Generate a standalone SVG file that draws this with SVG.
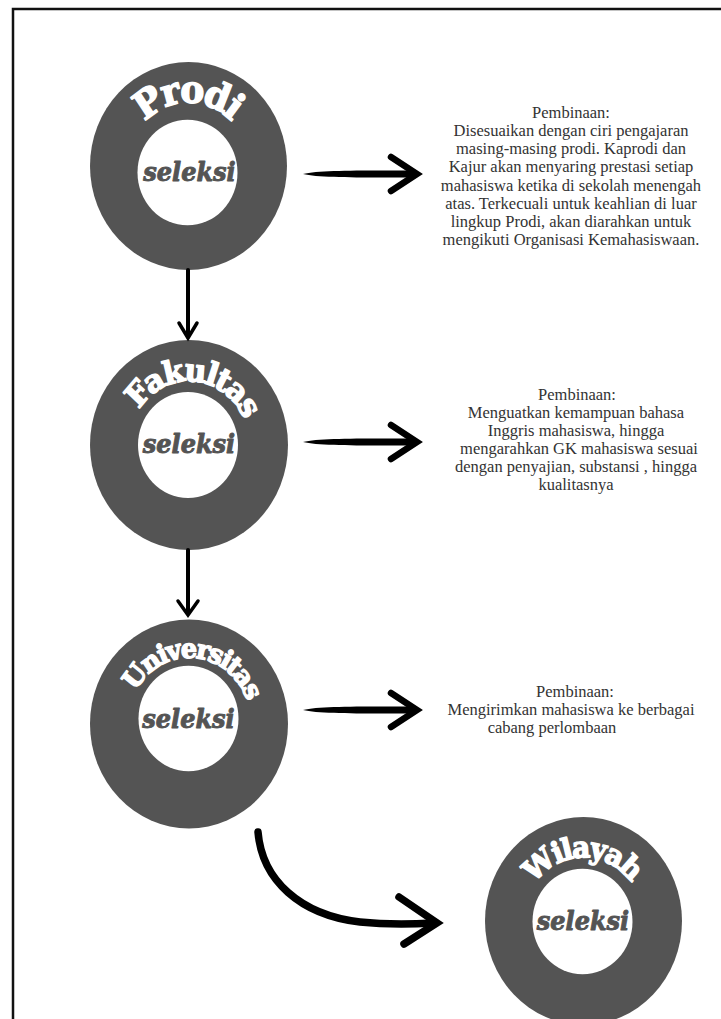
<svg xmlns="http://www.w3.org/2000/svg" width="721" height="1019" viewBox="0 0 721 1019">
<defs>
<style>
.ring{fill:#545454}
.hole{fill:#ffffff}
.title{font-family:"DejaVu Serif","Liberation Serif",serif;font-weight:bold;fill:#ffffff;stroke:#ffffff;stroke-width:1.4;stroke-linejoin:round;text-anchor:middle}
.sel{font-family:"DejaVu Serif","Liberation Serif",serif;font-weight:bold;font-style:italic;font-size:24px;fill:#545454;stroke:#545454;stroke-width:0.9;stroke-linejoin:round;text-anchor:middle}
.desc{font-family:"Liberation Serif","Times New Roman",serif;font-size:16.5px;fill:#333333;text-anchor:middle}
.shaft{fill:#000000}
.head{fill:none;stroke:#000000;stroke-linecap:round;stroke-linejoin:miter}
.line{fill:none;stroke:#000000;stroke-linecap:round}
</style>
<path id="arcProdi" d="M -58.8 12.0 A 60 60 0 1 1 59.3 8.9"/>
<path id="arcFak" d="M -59.7 5.7 A 60 60 0 1 1 58.1 15.0"/>
<path id="arcUni" d="M -60.4 3.4 A 61 61 0 1 1 59.9 11.6"/>
<path id="arcWil" d="M -58.8 12.0 A 60 60 0 1 1 59.3 8.9"/>
</defs>
<rect x="0" y="0" width="721" height="1019" fill="#ffffff"/>
<path d="M13,1019 V9 H721" fill="none" stroke="#111111" stroke-width="2.5"/>

<g id="node-prodi" transform="translate(188.5,166) scale(1,1.056)">
<circle class="ring" cx="0" cy="0" r="98.5"/>
<circle class="hole" cx="-1" cy="6.2" r="50"/>
<text class="title" font-size="36" letter-spacing="-3"><textPath href="#arcProdi" startOffset="50%">Prodi</textPath></text>
<text class="sel" x="1" y="14">seleksi</text>
</g>

<g id="node-fakultas" transform="translate(189,445) scale(1,1.06)">
<circle class="ring" cx="0" cy="0" r="99"/>
<circle class="hole" cx="-1" cy="0" r="50"/>
<text class="title" font-size="30" letter-spacing="-2"><textPath href="#arcFak" startOffset="50%">Fakultas</textPath></text>
<text class="sel" x="0" y="7.5">seleksi</text>
</g>

<g id="node-universitas" transform="translate(189,724) scale(1,1.055)">
<circle class="ring" cx="0" cy="0" r="99"/>
<circle class="hole" cx="-0.5" cy="-5.2" r="50"/>
<text class="title" font-size="25.5" letter-spacing="-2"><textPath href="#arcUni" startOffset="50%">Universitas</textPath></text>
<text class="sel" x="-0.5" y="4">seleksi</text>
</g>

<g id="node-wilayah" transform="translate(583.5,921) scale(1,1.055)">
<circle class="ring" cx="0" cy="0" r="98.5"/>
<circle class="hole" cx="-1" cy="0.5" r="50"/>
<text class="title" font-size="28" letter-spacing="-2"><textPath href="#arcWil" startOffset="50%">Wilayah</textPath></text>
<text class="sel" x="-0.5" y="8.5">seleksi</text>
</g>

<g id="desc-prodi">
<text class="desc" x="571" y="118">Pembinaan:</text>
<text class="desc" x="571" y="136">Disesuaikan dengan ciri pengajaran</text>
<text class="desc" x="571" y="154">masing-masing prodi. Kaprodi dan</text>
<text class="desc" x="571" y="172">Kajur akan menyaring prestasi setiap</text>
<text class="desc" x="571" y="191">mahasiswa ketika di sekolah menengah</text>
<text class="desc" x="571" y="209">atas. Terkecuali untuk keahlian di luar</text>
<text class="desc" x="571" y="227">lingkup Prodi, akan diarahkan untuk</text>
<text class="desc" x="571" y="245">mengikuti Organisasi Kemahasiswaan.</text>
</g>

<g id="desc-fakultas">
<text class="desc" x="577" y="400">Pembinaan:</text>
<text class="desc" x="576" y="418">Menguatkan kemampuan bahasa</text>
<text class="desc" x="576" y="436">Inggris mahasiswa, hingga</text>
<text class="desc" x="579" y="454">mengarahkan GK mahasiswa sesuai</text>
<text class="desc" x="576" y="472">dengan penyajian, substansi , hingga</text>
<text class="desc" x="576" y="490">kualitasnya</text>
</g>

<g id="desc-universitas">
<text class="desc" x="575" y="697">Pembinaan:</text>
<text class="desc" x="571" y="715">Mengirimkan mahasiswa ke berbagai</text>
<text class="desc" x="552" y="733">cabang perlombaan</text>
</g>

<g id="connectors">
<line class="line" x1="188" y1="270" x2="188" y2="336" stroke-width="4"/>
<polyline class="head" points="179,323 188,338 197,323" stroke-width="3.5"/>
<line class="line" x1="188" y1="550" x2="188" y2="613" stroke-width="4"/>
<polyline class="head" points="178,601 188,615 198,601" stroke-width="3.5"/>

<path class="shaft" d="M303,174 C320,170 360,170.5 414,170.5 L414,177.5 C360,177.5 320,178 303,174 Z"/>
<polyline class="head" points="391,157 417,174 391,191" stroke-width="6.5"/>

<path class="shaft" d="M303,442 C320,438 360,438.5 414,438.5 L414,445.5 C360,445.5 320,446 303,442 Z"/>
<polyline class="head" points="391,425 417,442 391,459" stroke-width="6.5"/>

<path class="shaft" d="M303,710 C320,706 360,706.5 414,706.5 L414,713.5 C360,713.5 320,714 303,710 Z"/>
<polyline class="head" points="391,693 417,710 391,727" stroke-width="6.5"/>

<path class="line" d="M258,832 C262,880 300,915 360,922 C390,925 415,924 433,923" stroke-width="7.5"/>
<polyline class="head" points="399,897 437,923 404,944" stroke-width="7.5" stroke-linejoin="round"/>
</g>
</svg>
